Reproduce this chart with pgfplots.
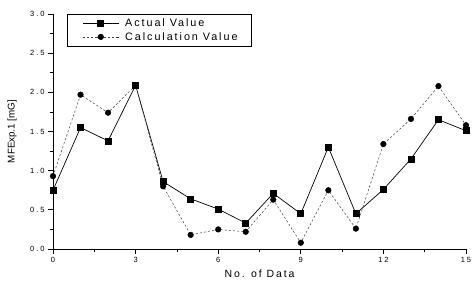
\documentclass[border=0pt]{standalone}
\usepackage{fontspec}
\setmainfont{Liberation Sans}
\newfontfamily\tickfont{Liberation Sans}[LetterSpace=26]
\newfontfamily\labfont{Liberation Sans}[LetterSpace=18]
\newfontfamily\legfont{Liberation Sans}[LetterSpace=18]
\usepackage{pgfplots}
\pgfplotsset{compat=1.18}
\begin{document}
\begin{tikzpicture}[x=1pt,y=1pt]
\begin{axis}[
  at={(0pt,0pt)}, anchor=south west,
  scale only axis, width=413pt, height=235pt,
  xmin=0, xmax=15, ymin=0, ymax=3,
  axis x line*=bottom, axis y line*=left,
  axis line style={line width=0.9pt},
  xtick={0,3,...,15}, ytick={0,0.5,...,3},
  minor x tick num=1, minor y tick num=1,
  tick align=outside,
  major tick length=5pt, minor tick length=3pt,
  tick style={black, line width=0.7pt},
  /pgf/number format/assume math mode=true,
  yticklabel style={/pgf/number format/.cd, fixed, fixed zerofill, precision=1},
  ticklabel style={font=\tickfont\fontsize{7.5}{9}\selectfont},
  xlabel={\labfont\fontsize{10.5}{12}\selectfont No. of Data},
  ylabel={\fontsize{9.8}{11}\selectfont MFExp.1 [mG]},
  xlabel style={at={(axis description cs:0.5,0)}, anchor=north, yshift=-17pt},
  ylabel style={at={(axis description cs:-0.099,0.5)}, anchor=center},
  legend style={at={(axis description cs:0.034,1.0)}, anchor=north west, draw=black, line width=0.8pt,
    font=\legfont\fontsize{10.8}{12}\selectfont, inner xsep=12pt, inner ysep=2.5pt,
    row sep=0pt, cells={anchor=west}},
  every axis plot/.append style={legend image code/.code={\path (-3pt,0pt) (40pt,0pt); \draw[mark repeat=2,mark phase=2] plot coordinates {(0pt,0pt) (18pt,0pt) (36pt,0pt)};}},
]
\addplot[black, line width=0.7pt, mark=square*, mark size=3pt, mark options={solid}]
  coordinates {(0,0.75)(1,1.55)(2,1.38)(3,2.09)(4,0.86)(5,0.64)(6,0.51)(7,0.33)(8,0.71)(9,0.45)(10,1.30)(11,0.45)(12,0.76)(13,1.15)(14,1.65)(15,1.51)};
\addlegendentry{Actual Value}
\addplot[black!75, line width=0.5pt, dash pattern=on 2.2pt off 2pt, mark=*, mark size=2.8pt, mark options={solid, fill=black, draw=black}]
  coordinates {(0,0.93)(1,1.97)(2,1.74)(3,2.09)(4,0.80)(5,0.18)(6,0.25)(7,0.22)(8,0.63)(9,0.08)(10,0.75)(11,0.26)(12,1.34)(13,1.66)(14,2.08)(15,1.58)};
\addlegendentry{Calculation Value}
\end{axis}
\pgfresetboundingbox
\useasboundingbox (-53pt,-35pt) rectangle (421pt,249pt);
\end{tikzpicture}
\end{document}
